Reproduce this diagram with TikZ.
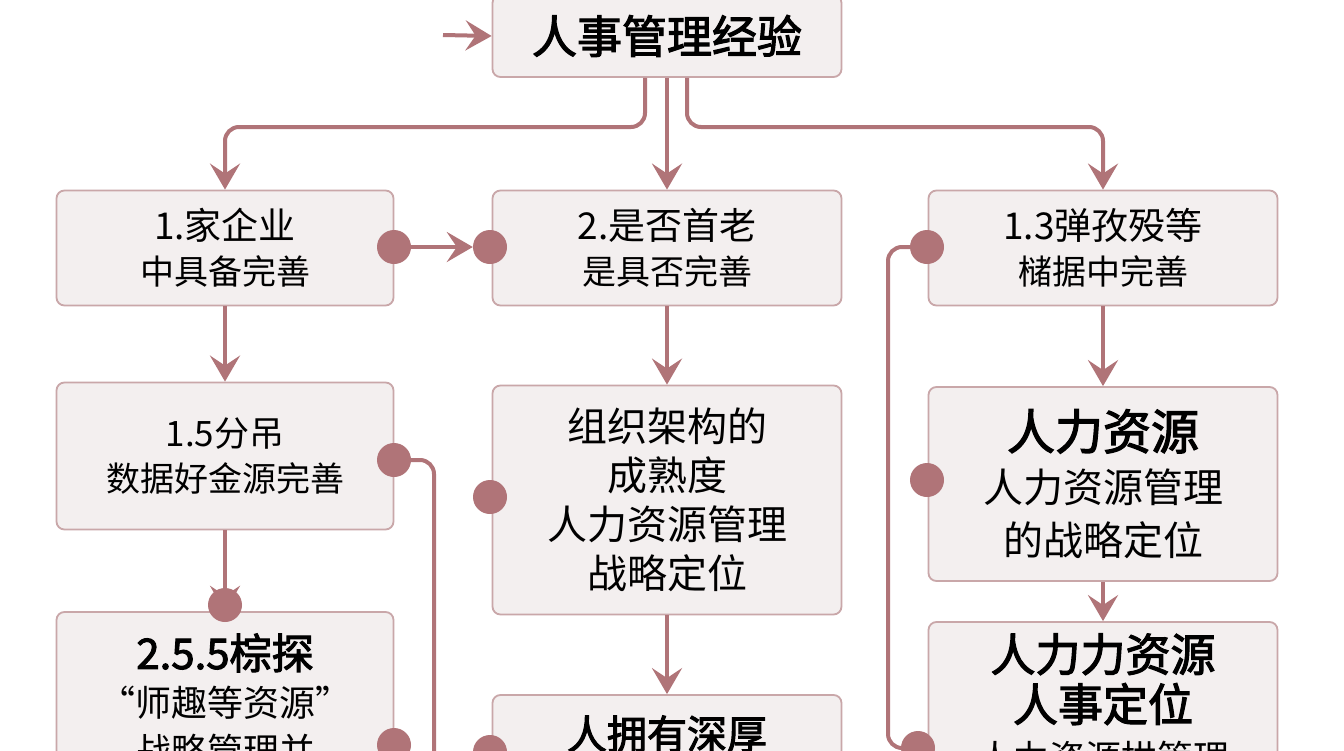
\documentclass[tikz,border=0pt]{standalone}
\usepackage{fontspec}
\setmainfont{Noto Sans CJK SC}[AutoFakeBold=2.5]
\usetikzlibrary{arrows.meta}
\definecolor{ln}{HTML}{B07478}
\definecolor{bx}{HTML}{F3EFEF}
\definecolor{bd}{HTML}{C9A7A9}
\newcommand\fs[2]{\fontsize{#1}{#2}\selectfont}
\begin{document}
\begin{tikzpicture}[x=1pt,y=-1pt,
  box/.style={draw=bd,line width=1.8pt,fill=bx,rounded corners=8pt,inner sep=0pt,align=center,text=black},
  con/.style={draw=ln,line width=4pt,rounded corners=14pt},
  arr/.style={con,-{Stealth[length=26pt,width=30pt,inset=10pt]}},
  dot/.style={circle,fill=ln,minimum size=34pt,inner sep=0pt}]
\fill[white] (0,0) rectangle (1344,750);
\useasboundingbox (0,0) rectangle (1344,750);
\clip (0,0) rectangle (1344,750);
% boxes
\node[box,minimum width=349pt,minimum height=82pt,font=\fs{45}{48}\bfseries] (top) at (667,36) {人事管理经验};
\node[box,minimum width=337pt,minimum height=115pt,font=\fs{37}{45}] (A) at (225,248) {1.家企业\\\fs{34}{45}中具备完善};
\node[box,minimum width=349pt,minimum height=115pt,font=\fs{37}{45}] (B) at (667,248) {2.是否首老\\\fs{34}{45}是具否完善};
\node[box,minimum width=349pt,minimum height=115pt,font=\fs{37}{45}] (C) at (1103,248) {1.3弹孜殁等\\\fs{34}{45}槠据中完善};
\node[box,minimum width=337pt,minimum height=147pt,font=\fs{35}{45}] (D) at (225,456) {1.5分吊\\\fs{34}{45}数据好金源完善};
\node[box,minimum width=349pt,minimum height=229pt,font=\fs{40}{49}] (E) at (667,500) {组织架构的\\成熟度\\人力资源管理\\战略定位};
\node[box,minimum width=349pt,minimum height=194pt,font=\fs{40}{53}] (F) at (1103,484) {\fs{48}{53}\bfseries 人力资源\\人力资源管理\\的战略定位};
\node[box,minimum width=337pt,minimum height=220pt] (G) at (225,722) {};
\node[anchor=north,align=center,font=\fs{36}{48}] (Gt) at (225,630) {\fs{42}{48}\bfseries 2.5.5棕探\\“师趣等资源”\\战略管理并};
\node[box,minimum width=349pt,minimum height=200pt] (H) at (667,795) {};
\node[anchor=north,font=\fs{40}{48}\bfseries] (Ht) at (667,712) {人拥有深厚};
\node[box,minimum width=349pt,minimum height=220pt] (I) at (1103,732) {};
\node[anchor=north,align=center,font=\fs{45}{50}\bfseries] (It) at (1103,630) {人力力资源\\人事定位\\\fs{36}{50}\mdseries 人力资源拱管理};
% dots and coordinates
\node[dot] (dA) at (394,247) {};
\node[dot] (dB) at (490,247) {};
\node[dot] (dC) at (927,247) {};
\node[dot] (dD) at (394,460) {};
\node[dot] (dE) at (490,497) {};
\node[dot] (dF) at (927,480) {};
\node[dot] (dG) at (225,605) {};
\node[dot] (dG2) at (394,745) {};
\node[dot] (dH) at (490,752) {};
\node[dot] (dI) at (918,748) {};
\coordinate (in) at (443,35);
\coordinate (dDend) at (434,760);
% connectors
\draw[arr] (in) -- (top.west);
\draw[arr] ([xshift=-22pt]top.south) |- (400,127) -| (A.north);
\draw[arr] (top.south) -- (B.north);
\draw[arr] ([xshift=20pt]top.south) |- (900,127) -| (C.north);
\draw[arr] (dA.east) -- (dB.west);
\draw[con] (dC) -| (888,600) |- (dI);
\draw[arr] (A.south) -- (D.north);
\draw[arr] (B.south) -- (E.north);
\draw[arr] (C.south) -- (F.north);
\draw[con] (dD) -| (dDend);
\draw[arr] (D.south) -- ([yshift=-24pt]dG.north);
\draw[arr] (E.south) -- (H.north);
\draw[arr] (F.south) -- (I.north);
\end{tikzpicture}
\end{document}
